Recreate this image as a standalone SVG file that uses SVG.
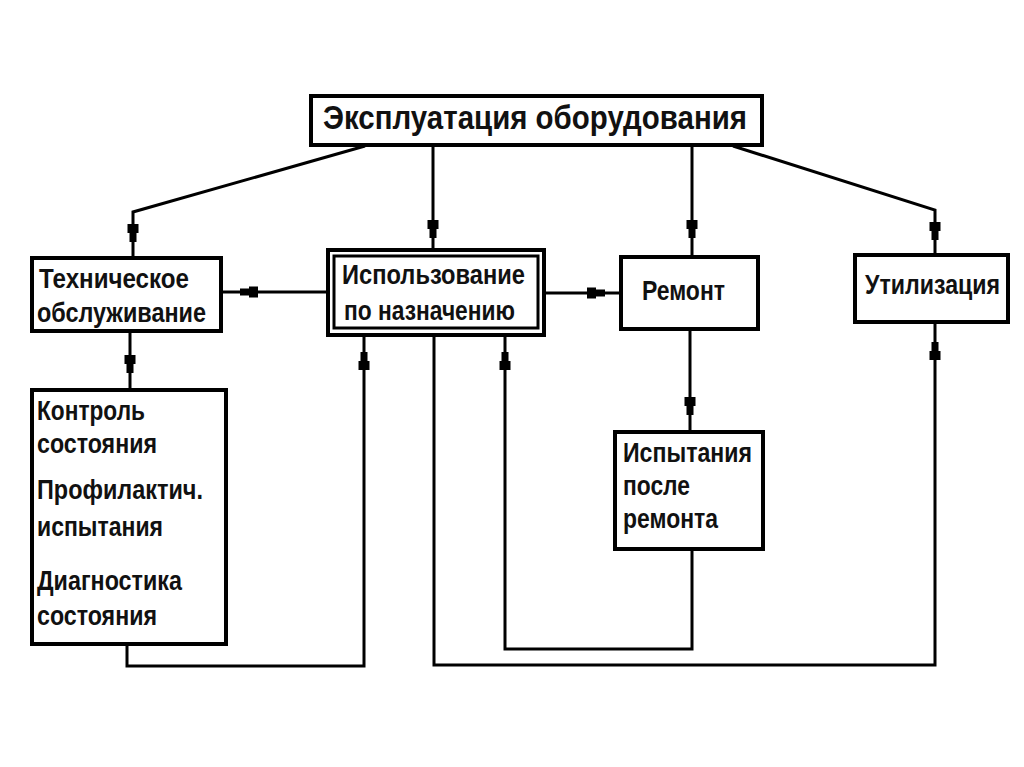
<svg xmlns="http://www.w3.org/2000/svg" xmlns:xlink="http://www.w3.org/1999/xlink" width="1024" height="767" viewBox="0 0 1024 767">
<style>
.box{fill:#fff;stroke:#000;stroke-width:4}
.ln{fill:none;stroke:#000;stroke-width:3;stroke-linejoin:miter}
.t{font-family:"Liberation Sans Narrow","Liberation Sans",Arial,sans-serif;font-weight:bold;font-size:24px;fill:#111}
.title{font-size:29px}
</style>
<defs>
<path id="ah" d="M-5.5,-18 H5.5 V-9 H3.5 V0 H-3.5 V-9 H-5.5 Z" fill="#000"/>
</defs>
<rect width="1024" height="767" fill="#fff"/>
<g id="connectors">
<polyline class="ln" points="365,146 133,212 133,257"/>
<polyline class="ln" points="433,146 433,250"/>
<polyline class="ln" points="692,146 692,256"/>
<polyline class="ln" points="733,146 935,210 935,254"/>
<polyline class="ln" points="328,292 221,292"/>
<polyline class="ln" points="544,293 620,293"/>
<polyline class="ln" points="130,331 130,390"/>
<polyline class="ln" points="690,329 690,432"/>
<polyline class="ln" points="127,644 127,666 364,666 364,336"/>
<polyline class="ln" points="692,549 692,649 505,649 505,336"/>
<polyline class="ln" points="434,336 434,665 935,665 935,322"/>
<use xlink:href="#ah" transform="translate(133,242)"/>
<use xlink:href="#ah" transform="translate(433,238)"/>
<use xlink:href="#ah" transform="translate(692,238)"/>
<use xlink:href="#ah" transform="translate(935,240)"/>
<use xlink:href="#ah" transform="translate(240,292) rotate(90)"/>
<use xlink:href="#ah" transform="translate(605,293) rotate(-90)"/>
<use xlink:href="#ah" transform="translate(130,373)"/>
<use xlink:href="#ah" transform="translate(690,415)"/>
<use xlink:href="#ah" transform="translate(364,352) rotate(180)"/>
<use xlink:href="#ah" transform="translate(505,352) rotate(180)"/>
<use xlink:href="#ah" transform="translate(935,342) rotate(180)"/>
</g>
<g id="n-top">
<rect class="box" x="311" y="96" width="451" height="49"/>
<text class="t title" x="323" y="0" transform="translate(0,129) scale(1,1.15)" textLength="424" lengthAdjust="spacingAndGlyphs">Эксплуатация оборудования</text>
</g>
<g id="n-to">
<rect class="box" x="32" y="258" width="189" height="73"/>
<text class="t" x="39" y="0" transform="translate(0,288) scale(1,1.15)" textLength="150" lengthAdjust="spacingAndGlyphs">Техническое</text>
<text class="t" x="37" y="0" transform="translate(0,322) scale(1,1.15)" textLength="169" lengthAdjust="spacingAndGlyphs">обслуживание</text>
</g>
<g id="n-isp">
<rect class="box" x="328" y="250" width="216" height="85"/>
<rect x="334" y="256" width="204" height="72" fill="#fff" stroke="#000" stroke-width="3"/>
<text class="t" x="342" y="0" transform="translate(0,284) scale(1,1.15)" textLength="183" lengthAdjust="spacingAndGlyphs">Использование</text>
<text class="t" x="344" y="0" transform="translate(0,320) scale(1,1.15)" textLength="171" lengthAdjust="spacingAndGlyphs">по назначению</text>
</g>
<g id="n-rem">
<rect class="box" x="621" y="257" width="137" height="72"/>
<text class="t" x="642" y="0" transform="translate(0,300) scale(1,1.15)" textLength="83" lengthAdjust="spacingAndGlyphs">Ремонт</text>
</g>
<g id="n-util">
<rect class="box" x="855" y="255" width="153" height="67"/>
<text class="t" x="865" y="0" transform="translate(0,294) scale(1,1.15)" textLength="135" lengthAdjust="spacingAndGlyphs">Утилизация</text>
</g>
<g id="n-kontrol">
<rect class="box" x="32" y="390" width="194" height="254"/>
<text class="t" x="37" y="0" transform="translate(0,420) scale(1,1.15)" textLength="108" lengthAdjust="spacingAndGlyphs">Контроль</text>
<text class="t" x="37" y="0" transform="translate(0,453) scale(1,1.15)" textLength="120" lengthAdjust="spacingAndGlyphs">состояния</text>
<text class="t" x="37" y="0" transform="translate(0,499) scale(1,1.15)" textLength="166" lengthAdjust="spacingAndGlyphs">Профилактич.</text>
<text class="t" x="37" y="0" transform="translate(0,536) scale(1,1.15)" textLength="126" lengthAdjust="spacingAndGlyphs">испытания</text>
<text class="t" x="37" y="0" transform="translate(0,590) scale(1,1.15)" textLength="145" lengthAdjust="spacingAndGlyphs">Диагностика</text>
<text class="t" x="37" y="0" transform="translate(0,625) scale(1,1.15)" textLength="120" lengthAdjust="spacingAndGlyphs">состояния</text>
</g>
<g id="n-ispyt">
<rect class="box" x="615" y="432" width="148" height="117"/>
<text class="t" x="623" y="0" transform="translate(0,462) scale(1,1.15)" textLength="129" lengthAdjust="spacingAndGlyphs">Испытания</text>
<text class="t" x="623" y="0" transform="translate(0,495) scale(1,1.15)" textLength="67" lengthAdjust="spacingAndGlyphs">после</text>
<text class="t" x="623" y="0" transform="translate(0,528) scale(1,1.15)" textLength="95" lengthAdjust="spacingAndGlyphs">ремонта</text>
</g>
</svg>
